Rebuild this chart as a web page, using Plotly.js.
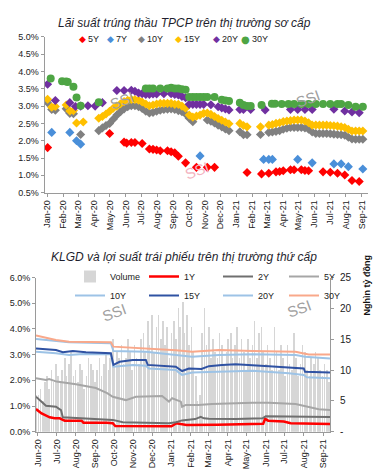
<!DOCTYPE html>
<html><head><meta charset="utf-8">
<script src="https://cdn.plot.ly/plotly-3.0.1.min.js"></script>
<style>body{margin:0;padding:0;background:#fff}#c{width:383px;height:473px}</style>
</head><body><div id="c"></div>
<script>
// ---------- Top chart: primary auction yields (%) ----------
const d5 = ['2020-01-02','2020-05-01','2020-05-29','2020-06-03','2020-06-12','2020-06-19','2020-07-03','2020-07-17','2020-07-24','2020-07-31','2020-08-07','2020-08-21','2020-08-28','2020-09-04','2020-09-11','2020-09-25','2020-10-16','2020-11-06','2020-11-20','2021-01-22','2021-02-19','2021-03-05','2021-03-19','2021-03-26','2021-04-02','2021-04-16','2021-04-23','2021-05-07','2021-05-14','2021-05-21','2021-06-18','2021-07-02','2021-07-16','2021-07-30','2021-08-13','2021-08-27'];
const y5 = [1.80,2.21,1.96,1.93,1.95,1.95,1.92,1.76,1.75,1.73,1.71,1.71,1.68,1.65,1.55,1.36,1.23,1.23,1.23,1.08,1.04,1.06,1.10,1.11,1.13,1.16,1.16,1.16,1.14,1.13,1.10,1.09,1.06,1.01,0.85,0.82];

const d7 = ['2020-01-10','2020-02-14','2020-02-27','2020-03-06','2020-10-23','2021-02-23','2021-03-05','2021-03-12','2021-04-30','2021-05-28','2021-07-09','2021-07-23','2021-08-06','2021-09-03'];
const y7 = [2.24,2.24,2.00,1.90,1.56,1.46,1.46,1.46,1.46,1.36,1.33,1.33,1.25,1.18];

const d10 = ['2020-01-02','2020-01-10','2020-01-17','2020-02-07','2020-02-14','2020-02-21','2020-03-06',
'2020-04-10','2020-04-17','2020-04-24','2020-05-01','2020-05-08','2020-05-15','2020-05-22','2020-05-29','2020-06-05','2020-06-12','2020-06-19','2020-06-26','2020-07-03','2020-07-10','2020-07-17','2020-07-24','2020-07-31','2020-08-07','2020-08-14','2020-08-21','2020-08-28','2020-09-04','2020-09-11','2020-09-18','2020-09-25','2020-10-02','2020-10-09',
'2020-11-06','2020-11-13','2020-11-20','2020-11-27','2020-12-04','2020-12-11','2020-12-18',
'2021-01-08','2021-01-15','2021-01-22','2021-02-17',
'2021-03-05','2021-03-12','2021-03-19','2021-03-26','2021-04-02','2021-04-09','2021-04-16','2021-04-23','2021-04-30','2021-05-07','2021-05-14','2021-05-21','2021-05-28','2021-06-04','2021-06-11','2021-06-18','2021-06-25','2021-07-02','2021-07-09','2021-07-16','2021-07-23','2021-07-30','2021-08-06','2021-08-13','2021-08-20','2021-08-27','2021-09-03'];
const y10 = [3.10,2.90,2.88,2.92,2.79,2.78,2.18,
2.29,2.37,2.44,2.50,2.62,2.74,2.84,2.92,2.98,3.01,3.01,2.98,2.93,2.85,2.80,2.82,2.85,2.88,2.90,2.91,2.92,2.90,2.87,2.84,2.77,2.65,2.55,
2.60,2.56,2.51,2.45,2.40,2.34,2.29,
2.26,2.17,2.17,2.18,
2.24,2.25,2.27,2.29,2.33,2.36,2.38,2.38,2.38,2.38,2.37,2.33,2.25,2.21,2.21,2.21,2.21,2.20,2.19,2.18,2.17,2.16,2.10,2.05,2.04,2.04,2.04];

const d15 = ['2020-01-02','2020-01-10','2020-01-17','2020-02-07','2020-02-14','2020-02-21','2020-02-27','2020-03-11',
'2020-04-10','2020-04-17','2020-04-24','2020-05-01','2020-05-08','2020-05-15','2020-05-22','2020-05-29','2020-06-05','2020-06-12','2020-06-19','2020-06-26','2020-07-03','2020-07-10','2020-07-17','2020-07-24','2020-07-31','2020-08-07','2020-08-14','2020-08-21','2020-08-28','2020-09-04','2020-09-11','2020-09-18','2020-09-25','2020-10-02','2020-10-09',
'2020-10-16','2020-10-23','2020-10-30','2020-11-06','2020-11-13','2020-11-20','2020-11-27','2020-12-04','2020-12-11','2020-12-18',
'2021-01-08','2021-01-15','2021-01-22','2021-02-17',
'2021-03-05','2021-03-12','2021-03-19','2021-03-26','2021-04-02','2021-04-09','2021-04-16','2021-04-23','2021-04-30','2021-05-07','2021-05-14','2021-05-21','2021-05-28','2021-06-04','2021-06-11','2021-06-18','2021-06-25','2021-07-02','2021-07-09','2021-07-16','2021-07-23','2021-07-30','2021-08-06','2021-08-13','2021-08-20','2021-08-27','2021-09-03'];
const y15 = [3.20,2.97,2.99,3.03,2.86,2.87,2.51,2.54,
2.65,2.70,2.77,2.85,2.94,3.00,3.07,3.13,3.17,3.19,3.19,3.17,3.12,3.06,3.01,3.03,3.06,3.08,3.08,3.08,3.08,3.05,3.05,3.00,2.94,2.74,2.68,
2.71,2.74,2.79,2.80,2.76,2.70,2.64,2.59,2.54,2.49,
2.50,2.44,2.40,2.40,
2.45,2.47,2.50,2.52,2.55,2.57,2.58,2.60,2.60,2.60,2.57,2.52,2.45,2.45,2.45,2.45,2.45,2.44,2.43,2.42,2.40,2.38,2.33,2.28,2.28,2.28,2.28];

const d20 = ['2020-01-02','2020-01-17','2020-02-14','2020-02-25','2020-03-06','2020-03-20','2020-04-03','2020-04-17','2020-05-15','2020-05-29','2020-06-12','2020-06-19','2020-06-26','2020-07-03','2020-07-10','2020-07-17','2020-07-24','2020-07-31','2020-08-14','2020-08-28','2020-09-04','2020-09-11','2020-09-18','2020-09-25','2020-10-02','2020-10-09','2020-10-16','2020-10-23','2020-10-30','2020-11-13','2020-11-27','2020-12-04','2020-12-11','2020-12-18','2021-01-08','2021-01-15','2021-01-29','2021-02-26','2021-04-16','2021-04-30','2021-05-14','2021-05-28','2021-07-09','2021-07-30','2021-08-13','2021-08-27'];
const y20 = [3.63,3.16,3.10,2.99,3.00,3.01,3.00,3.10,3.45,3.45,3.46,3.43,3.38,3.36,3.34,3.34,3.35,3.35,3.36,3.36,3.34,3.32,3.28,3.24,3.05,3.05,3.05,3.05,3.05,3.04,2.98,2.95,2.92,2.89,2.90,2.90,2.90,2.89,2.90,2.90,2.90,2.90,2.91,2.86,2.83,2.81];

const d30 = ['2020-01-08','2020-01-30','2020-02-07','2020-02-10','2020-02-21','2020-02-27','2020-03-06','2020-04-10','2020-07-10','2020-07-17','2020-07-24','2020-08-07','2020-08-21','2020-08-28','2020-09-04','2020-09-11','2020-09-18','2020-09-25','2020-10-02','2020-10-09','2020-10-16','2020-10-23','2020-10-30','2020-11-06','2020-11-20','2020-12-04','2020-12-11','2020-12-18','2021-01-08','2021-01-15','2021-01-22','2021-01-29','2021-02-19','2021-03-11','2021-03-17','2021-03-30','2021-04-12','2021-04-23','2021-05-07','2021-05-21','2021-06-04','2021-06-18','2021-07-02','2021-07-16','2021-07-23','2021-08-06','2021-08-20','2021-09-03'];
const y30 = [3.80,3.72,3.71,3.70,3.56,3.25,3.01,3.11,3.51,3.51,3.51,3.51,3.51,3.53,3.51,3.51,3.49,3.47,3.26,3.26,3.26,3.26,3.26,3.26,3.26,3.18,3.16,3.15,3.10,3.03,3.00,3.00,3.03,3.07,3.07,3.06,3.06,3.06,3.06,3.06,3.06,3.06,3.06,3.06,3.06,3.03,2.98,2.98];

const topNames = ['5Y','7Y','10Y','15Y','20Y','30Y'];
const topColors = ['#ff0000','#4a8fd9','#808080','#ffc000','#7030a0','#4ea544'];

// ---------- Bottom chart: secondary market yields (%) and volume (thousand bn VND) ----------
const d1 = ['2020-05-29','2020-06-07','2020-06-20','2020-06-28','2020-07-06','2020-07-14','2020-08-10','2020-08-13','2020-09-19','2020-09-29','2020-10-03','2020-12-24','2021-01-01','2021-01-09','2021-01-25','2021-03-15','2021-05-15','2021-05-28','2021-05-31','2021-06-05','2021-06-30','2021-07-11','2021-09-12'];
const v1 = [0.88,0.71,0.56,0.52,0.52,0.43,0.43,0.35,0.35,0.33,0.22,0.19,0.21,0.33,0.26,0.27,0.29,0.31,0.50,0.43,0.40,0.33,0.30];
const d2 = ['2020-05-29','2020-06-06','2020-06-14','2020-06-30','2020-07-05','2020-07-08','2020-07-11','2020-08-17','2020-09-29','2020-10-15','2020-12-28','2021-01-08','2021-01-18','2021-02-08','2021-02-17','2021-02-22','2021-03-02','2021-04-14','2021-05-27','2021-06-01','2021-09-12'];
const v2 = [1.36,1.17,1.01,0.97,0.90,0.84,0.56,0.52,0.46,0.37,0.33,0.37,0.44,0.49,0.58,0.52,0.50,0.49,0.52,0.60,0.57];
const d5b = ['2020-05-29','2020-06-14','2020-06-19','2020-07-01','2020-08-01','2020-09-02','2020-09-20','2020-09-29','2020-10-20','2020-11-05','2020-12-17','2020-12-25','2020-12-28','2021-01-02','2021-01-16','2021-01-18','2021-01-24','2021-02-13','2021-03-07','2021-05-11','2021-06-06','2021-07-19','2021-08-09','2021-08-25','2021-09-12'];
const v5b = [2.08,2.01,2.05,1.95,1.85,1.70,1.50,1.36,1.23,1.36,1.39,1.23,1.17,1.30,1.17,0.97,1.04,1.04,1.08,1.13,1.13,1.08,0.97,0.87,0.84];
const d10b = ['2020-05-29','2020-06-30','2020-07-21','2020-08-12','2020-09-26','2020-09-30','2020-10-31','2020-11-21','2020-11-26','2021-01-08','2021-01-13','2021-01-18','2021-02-03','2021-03-18','2021-05-11','2021-07-08','2021-08-01','2021-08-06','2021-09-12'];
const v10b = [3.11,3.05,2.98,3.02,3.01,2.53,2.60,2.57,2.46,2.40,2.30,2.21,2.30,2.33,2.37,2.27,2.21,2.12,2.08];
const d15b = ['2020-05-29','2020-06-30','2020-07-11','2020-07-27','2020-08-17','2020-09-26','2020-09-30','2020-10-10','2020-10-31','2020-11-21','2020-11-24','2021-01-08','2021-01-18','2021-01-29','2021-02-18','2021-03-02','2021-03-23','2021-04-14','2021-06-06','2021-07-08','2021-08-01','2021-08-03','2021-09-12'];
const v15b = [3.24,3.18,3.09,3.14,3.09,3.05,2.60,2.72,2.79,2.79,2.60,2.53,2.36,2.46,2.44,2.55,2.60,2.62,2.55,2.49,2.46,2.33,2.30];
const d20b = ['2020-05-29','2020-07-21','2020-09-26','2020-09-30','2020-11-21','2021-01-13','2021-02-03','2021-03-18','2021-05-11','2021-07-19','2021-08-03','2021-09-12'];
const v20b = [3.61,3.48,3.44,3.14,3.11,2.98,2.92,2.98,3.01,2.98,2.92,2.85];
const d30b = ['2020-05-29','2020-06-30','2020-07-21','2020-09-26','2020-09-30','2020-11-21','2021-01-08','2021-02-03','2021-03-18','2021-05-11','2021-07-19','2021-07-30','2021-08-09','2021-09-12'];
const v30b = [3.74,3.57,3.50,3.48,3.31,3.24,3.17,3.11,3.18,3.14,3.11,3.05,3.00,3.00];

// Volume: first value on 2020-05-29, then two sessions per week (Tue, Fri) from week of 2020-06-01
const volFirstDate = '2020-05-29';
const volFirstWeek = '2020-06-01';
const volume = [6,
6,7, 5,8, 9,7, 10,8, 11,9, 8,10, 12,9, 11,13, 9,10, 8,11, 10,7, 9,12, 11,10, 8,10, 12,9, 11,13, 10,12,
15,11, 13,12, 14,11, 12,15, 13,10, 14,12, 11,15, 16,13, 18,14, 19,13, 17,19, 15,18, 14,17, 12,16,
18,15, 20,17, 21,16, 19,14, 17,13, 9,5, 6,16, 20,14, 17,12, 15,13, 12,16, 14,11, 13,15,
16,12, 14,17, 12,15, 13,10, 15,12, 14,18, 12,16, 17,13, 11,14, 12,10, 17,13, 10,14, 12,9,
14,11, 10,16, 12,9, 11,14, 13,10, 9,12, 11,13, 12,10, 9,11, 10,8];

const botNames = ['1Y','2Y','5Y','10Y','15Y','20Y','30Y'];
const botColors = ['#ff0000','#6f6f6f','#a6a6a6','#9dc3e6','#2f52a3','#9dc3e6','#f9a88a'];
// legend column for each bottom series (Volume sits in column 1)
const botLegend = ['legend2','legend3','legend4','legend','legend2','legend3','legend4'];

// build volume dates (session calendar)
const volDates = [volFirstDate];
(function(){
  const base = new Date(volFirstWeek + 'T00:00:00Z');
  const nWeeks = (volume.length - 1) / 2;
  for (let w = 0; w < nWeeks; w++) {
    [1, 4].forEach(off => {
      const t = new Date(base.getTime() + (w * 7 + off) * 86400000);
      volDates.push(t.toISOString().slice(0, 10));
    });
  }
})();

const FONT = 'Liberation Sans, Arial, sans-serif';
const W = 383, H = 473;
const px = x => x / W, py = y => (H - y) / H;

const traces = [];
const topD = [d5, d7, d10, d15, d20, d30], topY = [y5, y7, y10, y15, y20, y30];
topNames.forEach((n, i) => {
  traces.push({
    type: 'scatter', mode: 'markers', name: n, x: topD[i], y: topY[i],
    xaxis: 'x', yaxis: 'y', showlegend: false,
    marker: { symbol: i === 5 ? 'circle' : 'diamond', size: i === 5 ? 8 : 7, color: topColors[i], line: { width: 0 } }
  });
});

traces.push({
  type: 'bar', name: 'Volume', x: volDates, y: volume, xaxis: 'x2', yaxis: 'y2',
  marker: { color: '#d6d6d6', line: { width: 0 } }, width: 2.6 * 86400000, legend: 'legend'
});
const botD = [d1, d2, d5b, d10b, d15b, d20b, d30b], botV = [v1, v2, v5b, v10b, v15b, v20b, v30b];
botNames.forEach((n, i) => {
  traces.push({
    type: 'scatter', mode: 'lines', name: n, x: botD[i], y: botV[i], xaxis: 'x2', yaxis: 'y3',
    line: { color: botColors[i], width: i === 0 ? 2.5 : 2 },
    legend: botLegend[i]
  });
});

const axisCommon = {
  showgrid: false, zeroline: false, showline: true, linecolor: '#9a9a9a', linewidth: 1,
  ticks: 'outside', ticklen: 3, tickcolor: '#9a9a9a', tickfont: { size: 9, color: '#222', family: FONT }
};

const annotations = [
  { text: '<i>Lãi suất trúng thầu TPCP trên thị trường sơ cấp</i>', x: px(184), y: py(14), xref: 'paper', yref: 'paper', showarrow: false, font: { size: 12, color: '#1f1f2e', family: FONT } },
  { text: '<i>KLGD và lợi suất trái phiếu trên thị trường thứ cấp</i>', x: px(184), y: py(257), xref: 'paper', yref: 'paper', showarrow: false, font: { size: 12, color: '#1f1f2e', family: FONT } },
  { text: '<b>Nghìn tỷ đồng</b>', x: px(373), y: py(318), xref: 'paper', yref: 'paper', showarrow: false, textangle: -90, font: { size: 9, color: '#111', family: FONT } }
];
// top legend (symbol glyph + label)
const symX = [82, 110, 141, 178, 216, 245];
const txtX = [87, 115, 146, 183, 221, 251];
topNames.forEach((n, i) => {
  annotations.push({ text: i === 5 ? '●' : '◆', x: px(symX[i]), y: py(33), xref: 'paper', yref: 'paper', xanchor: 'center', showarrow: false,
    borderpad: 0, font: { size: i === 5 ? 10 : 9, color: topColors[i], family: 'DejaVu Sans' } });
  annotations.push({ text: n, x: px(txtX[i]), y: py(33), xref: 'paper', yref: 'paper', xanchor: 'left', showarrow: false,
    borderpad: 0, font: { size: 9, color: '#222', family: FONT } });
});
// SSI watermarks
[[105, 86, '#a0a0a0'], [325, 84, '#a0a0a0'], [197, 156, '#f3b3c0'], [97, 327, '#a0a0a0'], [316, 323, '#a0a0a0']].forEach(w => {
  annotations.push({ text: 'SSI', x: px(w[0]), y: py(w[1]), xref: 'paper', yref: 'paper', showarrow: false, textangle: -20,
    font: { size: 15, color: w[2], family: FONT } });
});

const legendCommon = { orientation: 'v', xanchor: 'left', yanchor: 'middle', y: py(286),
  bgcolor: 'rgba(0,0,0,0)', font: { size: 9, color: '#222', family: FONT }, traceorder: 'normal', itemwidth: 30, tracegroupgap: 0 };

const layout = {
  width: W, height: H, margin: { l: 0, r: 0, t: 0, b: 0 },
  paper_bgcolor: '#fff', plot_bgcolor: 'rgba(0,0,0,0)',
  font: { family: FONT, size: 9, color: '#222' },
  showlegend: true,
  xaxis: Object.assign({}, axisCommon, {
    domain: [px(44.5), px(368)], anchor: 'y', type: 'date', range: ['2019-12-27', '2021-09-13'],
    tick0: '2020-01-01', dtick: 'M1', tickformat: '%b-%y', tickangle: -90
  }),
  yaxis: Object.assign({}, axisCommon, {
    domain: [py(192.6), py(36.9)], anchor: 'x', range: [0.5, 5.0], dtick: 0.5, tickformat: '.1f', ticksuffix: '%'
  }),
  xaxis2: Object.assign({}, axisCommon, {
    domain: [px(36), px(330)], anchor: 'y2', type: 'date', range: ['2020-05-29', '2021-09-12'],
    tick0: '2020-06-01', dtick: 'M1', tickformat: '%b-%y', tickangle: -90
  }),
  yaxis2: Object.assign({}, axisCommon, {
    domain: [py(431.7), py(277.5)], anchor: 'x2', side: 'right', range: [0, 25], ticklabelstandoff: 4,
    tickvals: [0, 5, 10, 15, 20, 25], ticktext: ['-', '5', '10', '15', '20', '25'], tickfont: { size: 10, color: '#222', family: FONT }
  }),
  yaxis3: Object.assign({}, axisCommon, {
    overlaying: 'y2', anchor: 'x2', side: 'left', range: [0, 6], dtick: 1, tickformat: '.1f', ticksuffix: '%'
  }),
  legend: Object.assign({}, legendCommon, { x: px(70) }),
  legend2: Object.assign({}, legendCommon, { x: px(144) }),
  legend3: Object.assign({}, legendCommon, { x: px(218) }),
  legend4: Object.assign({}, legendCommon, { x: px(284) }),
  bargap: 0,
  annotations: annotations
};

Plotly.newPlot('c', traces, layout, { displayModeBar: false, staticPlot: true });
</script>
</body></html>
